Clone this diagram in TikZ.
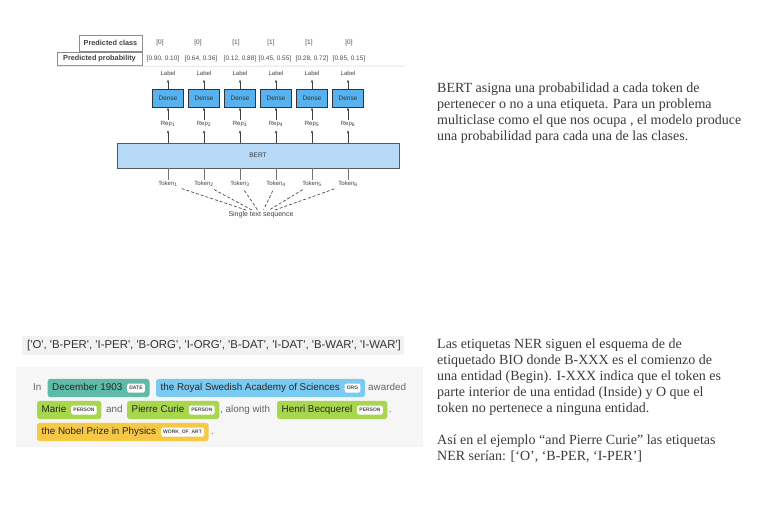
\documentclass[tikz,border=0pt]{standalone}
\usepackage{fontspec}
\setmainfont{Liberation Serif}
\setsansfont{Liberation Sans}
\newfontfamily\listfont{Liberation Sans}[Ligatures=TeXOff]
\usetikzlibrary{arrows.meta,positioning,fit,backgrounds}

\definecolor{densefill}{RGB}{88,178,240}
\definecolor{bertfill}{RGB}{182,217,248}
\definecolor{datecol}{RGB}{95,186,167}
\definecolor{orgcol}{RGB}{122,202,242}
\definecolor{personcol}{RGB}{168,214,78}
\definecolor{artcol}{RGB}{246,200,70}
\definecolor{bodytext}{RGB}{58,58,58}
\definecolor{listgray}{RGB}{242,242,242}
\definecolor{panelgray}{RGB}{246,246,246}

\tikzset{
  hdrbox/.style={draw=black!45, line width=0.7pt, inner sep=0pt,
    font=\sffamily\bfseries\fontsize{7.3}{9}\selectfont, text=black!75},
  val/.style={inner sep=1pt, font=\sffamily\fontsize{6.5}{8}\selectfont, text=black!70},
  lbl/.style={inner sep=1pt, font=\sffamily\fontsize{6}{7}\selectfont, text=black!75},
  dense/.style={draw=black!80, line width=0.6pt, fill=densefill, minimum width=31pt,
    minimum height=18pt, inner sep=0pt, font=\sffamily\fontsize{6.5}{8}\selectfont, text=black!80},
  bertbox/.style={draw=black!65, line width=0.7pt, fill=bertfill, minimum width=282pt,
    minimum height=25pt, inner sep=0pt, font=\sffamily\fontsize{6.5}{8}\selectfont, text=black!80},
  arr/.style={-{Latex[length=3pt,width=2.4pt]}, black!75, line width=0.6pt},
  tokline/.style={black!55, line width=0.7pt},
  seqline/.style={black!70, line width=0.7pt, dash pattern=on 3pt off 2pt, shorten <=3pt, shorten >=1pt},
  enttext/.style={inner sep=0pt, anchor=west, text height=7.4pt, text depth=2pt,
    font=\sffamily\fontsize{9.85}{11}\selectfont, text=black!85},
  enttag/.style={fill=white, rounded corners=1.5pt, inner xsep=2.2pt, inner ysep=0pt,
    minimum height=9pt, font=\sffamily\bfseries\fontsize{5}{6}\selectfont, text=black!70},
  chip/.style={rounded corners=3pt, inner xsep=4.5pt, inner ysep=4.3pt},
  plain/.style={inner sep=0pt, anchor=west, text height=7.4pt, text depth=2pt,
    font=\sffamily\fontsize{9.85}{11}\selectfont, text=black!60},
  para/.style={inner sep=0pt, anchor=north west, align=left, text=bodytext,
    font=\fontsize{14}{16}\selectfont}
}

% entity chip: name, start of text, text, tag, colour
\newcommand{\entity}[5]{%
  \node[enttext] (#1) at (#2) {#3};
  \node[enttag, right=4.5pt of #1] (#1tag) {#4};
  \begin{scope}[on background layer]
    \node[chip, fill=#5, fit=(#1)(#1tag)] (#1chip) {};
  \end{scope}}

\begin{document}
\begin{tikzpicture}[x=1pt,y=-1pt]
  \useasboundingbox (0,0) rectangle (757,517);

  % predicted class and probability
  \node[hdrbox, minimum width=63pt, minimum height=16pt] (pclass) at (110.5,43) {Predicted class};
  \node[hdrbox, minimum width=85pt, minimum height=13pt] (pprob) at (99.5,58.5) {Predicted probability};
  \coordinate (sepend) at (405,66);
  \draw[black!12, line width=0.8pt] (pprob.south west) ++(0,1) -- (sepend);
  \foreach \xc/\xp/\c/\p [count=\i] in {160/163/0/{0.90, 0.10}, 198/201/0/{0.64, 0.36},
      236/240/1/{0.12, 0.88}, 271/275/1/{0.45, 0.55}, 309/312/1/{0.28, 0.72}, 349/349/0/{0.85, 0.15}}
  {
    \node[val] (c\i) at (\xc,43) {[\c]};
    \node[val] (p\i) at (\xp,59) {[\p]};
  }

  % BERT with one dense layer per token
  \node[bertbox] (bert) at (258,155.5) {BERT};
  \node[lbl, font=\sffamily\fontsize{7}{8}\selectfont] (seq) at (261,215) {Single text sequence};
  \foreach \x [count=\i] in {168,204,240,276,312,348}
  {
    \node[dense] (d\i) at (\x,98) {Dense};
    \node[lbl] (l\i) at (\x,73) {Label};
    \node[lbl] (r\i) at (\x,124) {Rep\textsubscript{\i}};
    \node[lbl] (t\i) at (\x,184) {Token\textsubscript{\i}};
    \draw[arr, shorten >=3pt] (d\i) -- (l\i);
    \draw[arr] (r\i) -- (d\i);
    \draw[arr, shorten >=2pt] (bert.north -| r\i) -- (r\i);
    \draw[tokline] (t\i) -- (bert.south -| t\i);
    \draw[seqline] (t\i) -- (seq);
  }

  \node[para] (bertnote) at (437,83) {BERT asigna una probabilidad a cada token de\\
    pertenecer o no a una etiqueta. Para un problema\\
    multiclase como el que nos ocupa , el modelo produce\\
    una probabilidad para cada una de las clases.};

  % NER labels and example
  \begin{scope}[on background layer]
    \fill[listgray] (22,336) rectangle (404,355);
    \fill[panelgray] (16,367) rectangle (423,447);
  \end{scope}
  \node[inner sep=0pt, anchor=west, text=black!80, font=\listfont\fontsize{11.4}{13}\selectfont] (nerlist) at (27,345.5)
    {['O', 'B-PER', 'I-PER', 'B-ORG', 'I-ORG', 'B-DAT', 'I-DAT', 'B-WAR', 'I-WAR']};

  \node[plain] (w1) at (33,388) {In};
  \entity{e1}{52,388}{December 1903}{DATE}{datecol}
  \entity{e2}{160.5,388}{the Royal Swedish Academy of Sciences}{ORG}{orgcol}
  \node[plain] (w2) at (368,388) {awarded};
  \entity{e3}{41.5,410}{Marie}{PERSON}{personcol}
  \node[plain] (w3) at (106,410) {and};
  \entity{e4}{131.5,410}{Pierre Curie}{PERSON}{personcol}
  \node[plain] (w4) at (220,410) {, along with};
  \entity{e5}{281.5,410}{Henri Becquerel}{PERSON}{personcol}
  \node[plain] (w5) at (389,410) {.};
  \entity{e6}{41.5,432}{the Nobel Prize in Physics}{WORK\_OF\_ART}{artcol}
  \node[plain] (w6) at (211,432) {.};

  \node[para] (nernote) at (437,339) {Las etiquetas NER siguen el esquema de de\\
    etiquetado BIO donde B-XXX es el comienzo de\\
    una entidad (Begin). I-XXX indica que el token es\\
    parte interior de una entidad (Inside) y O que el\\
    token no pertenece a ninguna entidad.\\[16pt]
    Así en el ejemplo “and Pierre Curie” las etiquetas\\
    NER serían: [‘O’, ‘B-PER, ‘I-PER’]};
\end{tikzpicture}
\end{document}
